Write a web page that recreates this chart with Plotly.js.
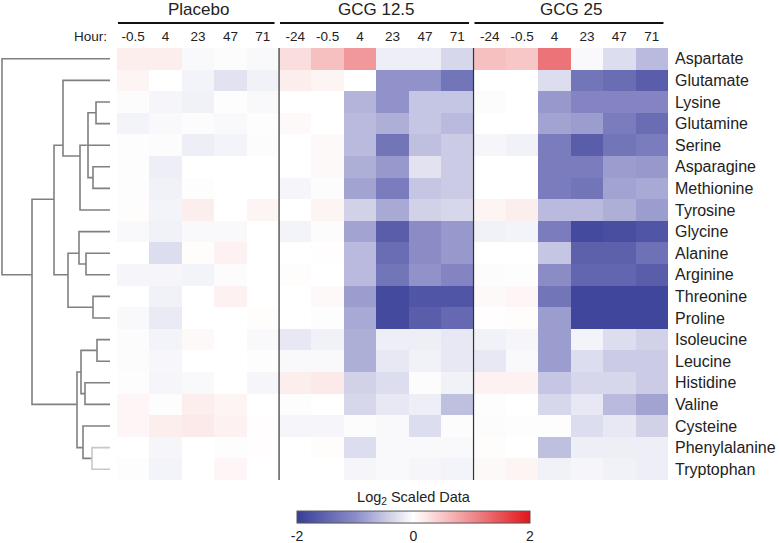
<!DOCTYPE html>
<html>
<head>
<meta charset="utf-8">
<script src="https://cdn.plot.ly/plotly-3.0.1.min.js"></script>
<style>html,body{margin:0;padding:0;background:#fff;}#chart{width:780px;height:543px;}</style>
</head>
<body>
<div id="chart"></div>
<script>
// ---------- DATA ----------
const aminoAcids = ['Aspartate','Glutamate','Lysine','Glutamine','Serine','Asparagine','Methionine','Tyrosine','Glycine','Alanine','Arginine','Threonine','Proline','Isoleucine','Leucine','Histidine','Valine','Cysteine','Phenylalanine','Tryptophan'];
const groupNames = ['Placebo','GCG 12.5','GCG 25'];
const placeboHours = ['-0.5','4','23','47','71'];
const gcg125Hours = ['-24','-0.5','4','23','47','71'];
const gcg25Hours = ['-24','-0.5','4','23','47','71'];

// log2 scaled values, one row per amino acid
const placebo = [
  [0.15,0.15,-0.05,-0.03,-0.05],
  [0.10,0.00,-0.10,-0.25,-0.12],
  [-0.03,-0.08,-0.12,-0.02,-0.05],
  [-0.10,-0.05,-0.03,-0.05,-0.02],
  [-0.02,-0.03,-0.15,-0.10,-0.03],
  [-0.02,-0.15,0.00,0.00,0.00],
  [-0.02,-0.12,-0.02,0.00,0.00],
  [0.03,-0.10,0.15,0.00,0.10],
  [-0.05,-0.12,-0.05,-0.05,0.00],
  [0.00,-0.30,0.03,0.12,0.00],
  [-0.08,-0.08,-0.10,-0.03,0.00],
  [0.00,-0.12,0.00,0.12,0.00],
  [-0.05,-0.18,0.00,0.00,0.03],
  [-0.03,-0.10,0.05,0.00,-0.05],
  [-0.03,-0.07,0.00,0.00,-0.02],
  [-0.02,-0.08,-0.05,0.00,-0.08],
  [0.08,-0.02,0.15,0.10,0.00],
  [0.08,0.15,0.18,0.12,0.02],
  [0.00,-0.08,0.00,-0.02,0.02],
  [-0.02,-0.10,0.00,0.08,0.00]
];
const gcg125 = [
  [0.30,0.55,0.90,-0.15,-0.15,-0.35],
  [0.15,0.10,0.00,-0.95,-0.95,-1.30],
  [0.00,0.00,-0.65,-0.95,-0.50,-0.50],
  [0.05,0.00,-0.60,-0.70,-0.50,-0.60],
  [0.00,0.05,-0.60,-1.30,-0.55,-0.45],
  [0.00,0.05,-0.70,-0.90,-0.25,-0.45],
  [-0.08,-0.03,-0.80,-1.20,-0.50,-0.45],
  [0.00,0.10,-0.40,-0.75,-0.40,-0.35],
  [-0.10,-0.03,-0.80,-1.60,-1.00,-0.90],
  [0.00,0.02,-0.60,-1.40,-1.00,-0.90],
  [0.03,0.00,-0.60,-1.30,-0.95,-1.10],
  [0.00,0.05,-0.85,-1.85,-1.70,-1.70],
  [0.00,-0.02,-0.75,-1.85,-1.60,-1.45],
  [-0.20,-0.12,-0.70,-0.15,-0.15,-0.20],
  [-0.05,-0.05,-0.70,-0.20,-0.12,-0.20],
  [0.15,0.18,-0.40,-0.30,-0.03,-0.12],
  [-0.02,0.00,-0.35,-0.20,-0.15,-0.55],
  [-0.08,-0.08,-0.03,-0.05,-0.30,-0.03],
  [0.00,0.03,-0.30,-0.05,-0.05,-0.05],
  [0.00,0.00,-0.08,-0.05,-0.08,-0.10]
];
const gcg25 = [
  [0.55,0.50,1.20,-0.05,-0.30,-0.60],
  [0.00,0.00,-0.30,-1.30,-1.40,-1.60],
  [-0.03,0.00,-0.90,-1.10,-1.10,-1.10],
  [0.00,0.00,-0.80,-0.85,-1.20,-1.40],
  [-0.08,-0.12,-1.20,-1.60,-1.30,-1.20],
  [0.00,0.00,-1.20,-1.20,-0.85,-0.90],
  [0.00,0.00,-1.20,-1.30,-0.80,-0.75],
  [0.10,0.15,-0.60,-0.60,-0.70,-0.85],
  [-0.12,-0.10,-1.20,-1.85,-1.80,-1.70],
  [0.00,0.00,-0.50,-1.55,-1.55,-1.35],
  [-0.03,-0.02,-1.00,-1.50,-1.50,-1.60],
  [0.05,0.08,-1.30,-1.90,-1.90,-1.90],
  [0.02,0.03,-0.85,-1.90,-1.90,-1.90],
  [-0.12,-0.08,-0.85,-0.10,-0.30,-0.40],
  [-0.20,-0.05,-0.85,-0.30,-0.45,-0.45],
  [0.12,0.12,-0.50,-0.35,-0.35,-0.45],
  [-0.02,0.00,-0.35,-0.20,-0.60,-0.80],
  [-0.03,-0.02,-0.02,-0.30,-0.20,-0.40],
  [0.03,0.00,-0.55,-0.15,-0.15,-0.15],
  [0.05,0.10,-0.12,-0.08,-0.12,-0.15]
];

// dendrogram: merges [childA, childB, height]; leaves 0..19 = rows, new nodes numbered from 20
const dendroMerges = [
  [2,3,14],[5,6,17],[20,21,22],[4,22,23.5],[23,7,30],[1,24,47],
  [9,10,24],[8,26,31],[11,12,17],[27,28,42],[25,29,56],
  [13,14,13],[15,16,25],[31,32,29],[18,19,18],[17,34,27],[33,35,33],
  [30,36,78],[0,37,108]
];
const lightMerges = [14];

// ---------- BUILD ----------
const hourLabels = placeboHours.concat(gcg125Hours, gcg25Hours);
const groupSizes = [placeboHours.length, gcg125Hours.length, gcg25Hours.length];
const z = aminoAcids.map((_, i) => placebo[i].concat(gcg125[i], gcg25[i]));
const colIdx = hourLabels.map((_, j) => j);
const rowIdx = aminoAcids.map((_, i) => i);

// dendrogram geometry (node y = mean of leaf positions)
const nodeLeaves = {}; const nodeH = {};
rowIdx.forEach(i => { nodeLeaves[i] = [i]; nodeH[i] = 0; });
const nodeY = id => nodeLeaves[id].reduce((a, b) => a + b, 0) / nodeLeaves[id].length;
const mainX = [], mainY = [], lightX = [], lightY = [];
dendroMerges.forEach((m, k) => {
  const id = aminoAcids.length + k;
  const [a, b, h] = m;
  nodeLeaves[id] = nodeLeaves[a].concat(nodeLeaves[b]);
  nodeH[id] = h;
  const ya = nodeY(a), yb = nodeY(b);
  const X = lightMerges.includes(k) ? lightX : mainX;
  const Y = lightMerges.includes(k) ? lightY : mainY;
  X.push(nodeH[a], h, h, nodeH[b], null);
  Y.push(ya, ya, yb, yb, null);
});

const W = 780;
const FONT = 'Liberation Sans, Arial, sans-serif';
const heatL = 117, heatR = 668;

const traces = [
  {
    type: 'heatmap', x: colIdx, y: rowIdx, z: z,
    zmin: -2, zmax: 2,
    colorscale: [[0,'#383e97'],[0.25,'#8b8cc6'],[0.5,'#ffffff'],[0.75,'#ef8c8f'],[1,'#e1161c']],
    showscale: true,
    colorbar: {
      orientation: 'h', lenmode: 'pixels', len: 253, thickness: 12,
      x: 413.5 / W, xanchor: 'center', y: -0.03, yanchor: 'top', ypad: 0,
      title: {text: 'Log<sub>2</sub> Scaled Data', side: 'top', font: {family: FONT, size: 14.5, color: '#222'}},
      tickvals: [-2, 0, 2], ticktext: ['-2', '0', '2'], ticks: '',
      tickfont: {family: FONT, size: 14, color: '#222'},
      outlinecolor: '#555', outlinewidth: 1
    },
    xaxis: 'x', yaxis: 'y', hoverongaps: false
  },
  {type: 'scatter', mode: 'lines', x: mainX, y: mainY, xaxis: 'x2', yaxis: 'y',
   line: {color: '#808080', width: 1.6}, hoverinfo: 'skip', showlegend: false},
  {type: 'scatter', mode: 'lines', x: lightX, y: lightY, xaxis: 'x2', yaxis: 'y',
   line: {color: '#c8c8c8', width: 1.6}, hoverinfo: 'skip', showlegend: false}
];

// group header annotations and lines
const annotations = [];
const shapes = [];
let start = 0;
groupSizes.forEach((n, g) => {
  const s = start - 0.5, e = start + n - 0.5;
  annotations.push({xref: 'x', yref: 'paper', x: (s + e) / 2, y: (480 - 9) / 432, text: groupNames[g],
    showarrow: false, xanchor: 'center', yanchor: 'middle', font: {family: FONT, size: 17, color: '#222'}});
  shapes.push({type: 'line', xref: 'x', yref: 'paper', x0: s + 0.03, x1: e - 0.14,
    y0: (480 - 23) / 432, y1: (480 - 23) / 432, line: {color: '#111', width: 2}});
  if (g > 0) shapes.push({type: 'line', xref: 'x', yref: 'y', x0: s, x1: s, y0: -0.5, y1: aminoAcids.length - 0.5,
    line: {color: '#333', width: 1.2}});
  start += n;
});
annotations.push({xref: 'paper', yref: 'paper', x: 109 / W, y: (480 - 37) / 432, text: 'Hour:',
  showarrow: false, xanchor: 'right', yanchor: 'middle', font: {family: FONT, size: 13.5, color: '#222'}});

const layout = {
  width: 780, height: 543,
  margin: {l: 0, r: 0, t: 48, b: 63},
  paper_bgcolor: '#fff', plot_bgcolor: '#fff',
  showlegend: false,
  xaxis: {domain: [heatL / W, heatR / W], range: [-0.5, hourLabels.length - 0.5], side: 'top',
    tickvals: colIdx, ticktext: hourLabels, ticks: '', showgrid: false, zeroline: false, showline: false,
    ticklabelstandoff: 3,
    tickfont: {family: FONT, size: 13.5, color: '#222'}, fixedrange: true},
  yaxis: {domain: [0, 1], range: [aminoAcids.length - 0.5, -0.5], side: 'right', anchor: 'x',
    tickvals: rowIdx, ticktext: aminoAcids, ticks: '', showgrid: false, zeroline: false, showline: false,
    ticklabelstandoff: 6,
    tickfont: {family: FONT, size: 16, color: '#222'}, fixedrange: true},
  xaxis2: {domain: [0, 112 / W], range: [110, -2], visible: false, fixedrange: true, anchor: 'y'},
  annotations: annotations,
  shapes: shapes
};

Plotly.newPlot('chart', traces, layout, {displayModeBar: false, staticPlot: true});
</script>
</body>
</html>
